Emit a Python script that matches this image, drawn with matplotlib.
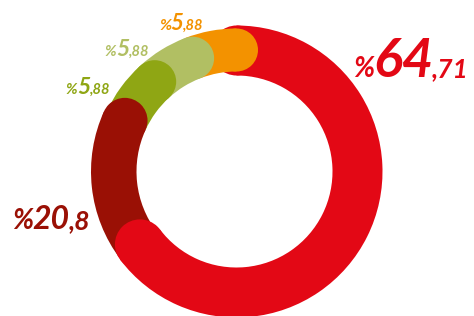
import matplotlib
matplotlib.use("Agg")
import matplotlib.pyplot as plt
from matplotlib.patches import Wedge, Circle
import numpy as np

# ---- data ----
categories = ["A", "B", "C", "D", "E"]
values = [64.71, 20.8, 5.88, 5.88, 5.88]
colors = ["#E30815", "#9A1005", "#8FA614", "#B1BF63", "#F39200"]

W, H = 474, 316
fig = plt.figure(figsize=(W / 100, H / 100), dpi=100)
ax = fig.add_axes([0, 0, 1, 1])
ax.set_xlim(0, W)
ax.set_ylim(0, H)
ax.axis("off")

cx, cy = 236.5, H - 171.5
# ring radii (inner, outer) per segment
radii = [(96, 146), (100, 145.5), (100, 143), (100, 143), (100, 143)]

deg = [v * 3.6 for v in values]


def wedge(t1, t2, idx):
    ri, ro = radii[idx]
    ax.add_patch(Wedge((cx, cy), ro, t1, t2, width=ro - ri, facecolor=colors[idx],
                       edgecolor="none", antialiased=True))


def cap(theta, idx):
    ri, ro = radii[idx]
    rm = (ri + ro) / 2
    t = np.radians(theta)
    ax.add_patch(Circle((cx + rm * np.cos(t), cy + rm * np.sin(t)), (ro - ri) / 2,
                        facecolor=colors[idx], edgecolor="none"))


# red: clockwise from top
red_start = 90
red_end = 90 - deg[0]
# others: counter-clockwise from top, in reverse order (orange first)
orange_a = 90
lg_a = orange_a + deg[4]
olive_a = lg_a + deg[3]
dred_a = olive_a + deg[2] + 2
dred_b = min(dred_a + deg[1], 360 + red_end)

wedge(red_end, red_start, 0)
cap(red_start, 0)
wedge(dred_a, dred_b, 1)
cap(red_end, 0)
wedge(olive_a, dred_a, 2)
cap(dred_a, 1)
wedge(lg_a, olive_a, 3)
cap(olive_a, 2)
wedge(orange_a, lg_a, 4)
cap(lg_a, 3)
cap(orange_a, 4)

# ---- labels ----
fig.canvas.draw()
renderer = fig.canvas.get_renderer()


def parts_of(v):
    s = f"{v:.2f}".rstrip("0")
    ip, dp = s.split(".")
    return "%", ip, "," + dp


def draw_label(x_img, y_base_img, v, sizes, color):
    x = x_img
    for s, size in zip(parts_of(v), sizes):
        t = ax.text(x, H - y_base_img, s, fontsize=size, color=color,
                    family="Lato", style="italic", weight="bold",
                    ha="left", va="baseline")
        bb = t.get_window_extent(renderer)
        x += bb.width * 0.97


label_pos = [(353, 77), (12, 229), (66, 94), (105, 56), (159, 30)]
label_sizes = [(20, 39, 19), (20, 23, 19), (11, 16.5, 10.5), (11, 16.5, 10.5), (11.5, 16, 10.5)]

for v, (lx, ly), sz, c in zip(values, label_pos, label_sizes, colors):
    draw_label(lx, ly, v, sz, c)

fig.savefig("out.png", dpi=100)
